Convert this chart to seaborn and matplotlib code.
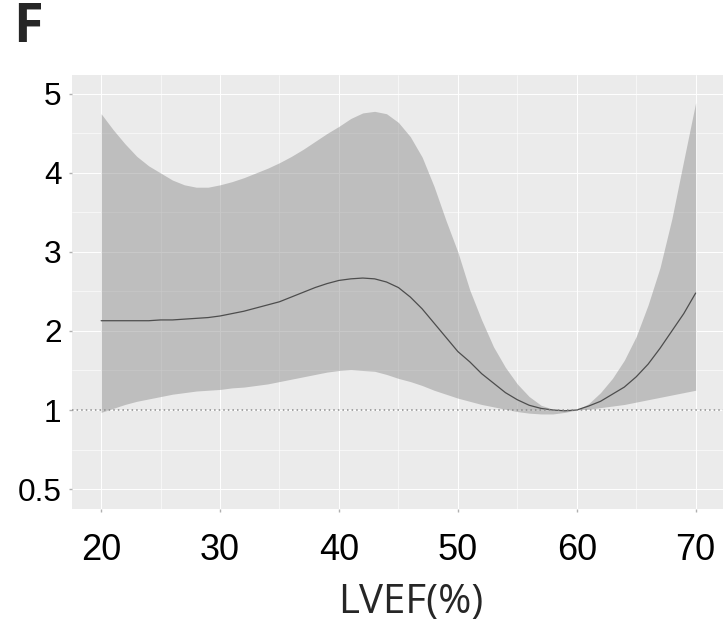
import numpy as np
import pandas as pd
import matplotlib
matplotlib.use("Agg")
import matplotlib.pyplot as plt
import seaborn as sns
from matplotlib import font_manager as fm
from matplotlib.ticker import MultipleLocator

# dados (LVEF x HR)
lvef = list(range(20, 71))

hr = [2.13, 2.13, 2.13, 2.13, 2.13, 2.14, 2.14, 2.15, 2.16, 2.17,
      2.19, 2.22, 2.25, 2.29, 2.33, 2.37, 2.43, 2.49, 2.55, 2.60,
      2.64, 2.66, 2.67, 2.66, 2.62, 2.55, 2.43, 2.28, 2.10, 1.92,
      1.74, 1.61, 1.46, 1.34, 1.22, 1.13, 1.06, 1.02, 1.00, 0.99,
      1.00, 1.05, 1.11, 1.20, 1.29, 1.42, 1.58, 1.78, 2.00, 2.22,
      2.48]

hr_upper = [4.75, 4.55, 4.37, 4.21, 4.09, 4.00, 3.91, 3.85, 3.82, 3.82,
            3.85, 3.89, 3.94, 4.00, 4.06, 4.13, 4.21, 4.30, 4.40, 4.50,
            4.59, 4.69, 4.76, 4.78, 4.75, 4.64, 4.46, 4.20, 3.83, 3.40,
            3.00, 2.52, 2.14, 1.80, 1.54, 1.33, 1.17, 1.06, 1.01, 1.00,
            1.00, 1.08, 1.22, 1.40, 1.63, 1.93, 2.33, 2.80, 3.42, 4.16,
            4.89]

hr_lower = [0.97, 1.02, 1.07, 1.11, 1.14, 1.17, 1.20, 1.22, 1.24, 1.25,
            1.26, 1.28, 1.29, 1.31, 1.33, 1.36, 1.39, 1.42, 1.45, 1.48,
            1.50, 1.51, 1.50, 1.49, 1.45, 1.40, 1.36, 1.31, 1.25, 1.20,
            1.15, 1.11, 1.07, 1.04, 1.01, 0.98, 0.96, 0.95, 0.95, 0.97,
            1.00, 1.01, 1.03, 1.05, 1.07, 1.10, 1.13, 1.16, 1.19, 1.22,
            1.25]

x_ticks = [20, 30, 40, 50, 60, 70]
y_ticks = [0, 1, 2, 3, 4, 5]
y_labels = ['0.5', '1', '2', '3', '4', '5']

df = pd.DataFrame({'lvef': lvef, 'hr': hr, 'lo': hr_lower, 'hi': hr_upper})


def pega_fonte(nome, peso='normal'):
    # procura o arquivo da fonte com largura normal (evita Narrow / Condensed)
    for f in fm.fontManager.ttflist:
        if f.name == nome and f.style == 'normal' and f.stretch in ('normal', 400, 'regular') \
                and str(f.weight) in (('400', 'normal', 'regular') if peso == 'normal' else ('700', 'bold')):
            low = f.fname.lower()
            if 'narrow' in low or 'condensed' in low:
                continue
            return fm.FontProperties(fname=f.fname)
    return fm.FontProperties(family=nome, weight=peso)


fp_tick = pega_fonte('Liberation Sans')
fp_title = pega_fonte('Open Sans')
fp_letra = pega_fonte('Open Sans', 'bold')

sns.set_theme(style='darkgrid', rc={'axes.facecolor': '#ebebeb'})
plt.rcParams['font.family'] = ['Liberation Sans', 'DejaVu Sans']

fig = plt.figure(figsize=(7.23, 6.23), dpi=100)
ax = fig.add_axes([72/723, 1 - 509/623, 1 - 72/723, (509 - 75)/623])

# faixa de confiança
ax.fill_between(df.lvef, df.lo, df.hi, color='#888888', alpha=0.45, linewidth=0, zorder=2)
sns.lineplot(data=df, x='lvef', y='hr', color='#4d4d4d', linewidth=0.9, ax=ax, zorder=3)
ax.axhline(1, color='#8c8c8c', linestyle=(0, (1, 2)), linewidth=1.1, zorder=4)

ax.set_xlim(17.55, 72.3)
ax.set_ylim(-0.253, 5.24)
ax.set_xticks(x_ticks)
ax.set_yticks(y_ticks)
ax.set_yticklabels(y_labels)
ax.xaxis.set_minor_locator(MultipleLocator(5))
ax.yaxis.set_minor_locator(MultipleLocator(0.5))
ax.grid(which='major', color='white', linewidth=0.7)
ax.grid(which='minor', color='white', linewidth=0.4)
ax.set_axisbelow(True)
for s in ax.spines.values():
    s.set_visible(False)

ax.tick_params(axis='both', which='major', length=2.5, width=1, color='#b0b0b0',
               labelcolor='black', bottom=True, left=True)
ax.tick_params(axis='x', pad=15)
ax.tick_params(axis='y', pad=5)
ax.tick_params(which='minor', length=0)
for lab in ax.get_xticklabels():
    lab.set_fontproperties(fp_tick)
    lab.set_fontsize(26)
for lab in ax.get_yticklabels():
    lab.set_fontproperties(fp_tick)
    lab.set_fontsize(22.8)
ax.set_xlabel('')
ax.set_ylabel('')

fig.text(411/723, 1 - 613/623, 'LVEF(%)', ha='center', va='baseline',
         fontproperties=fp_title, fontsize=29)
fig.text(13/723, 1 - 42/623, 'F', ha='left', va='baseline',
         fontproperties=fp_letra, fontsize=39)

fig.savefig('out.png', dpi=100)
